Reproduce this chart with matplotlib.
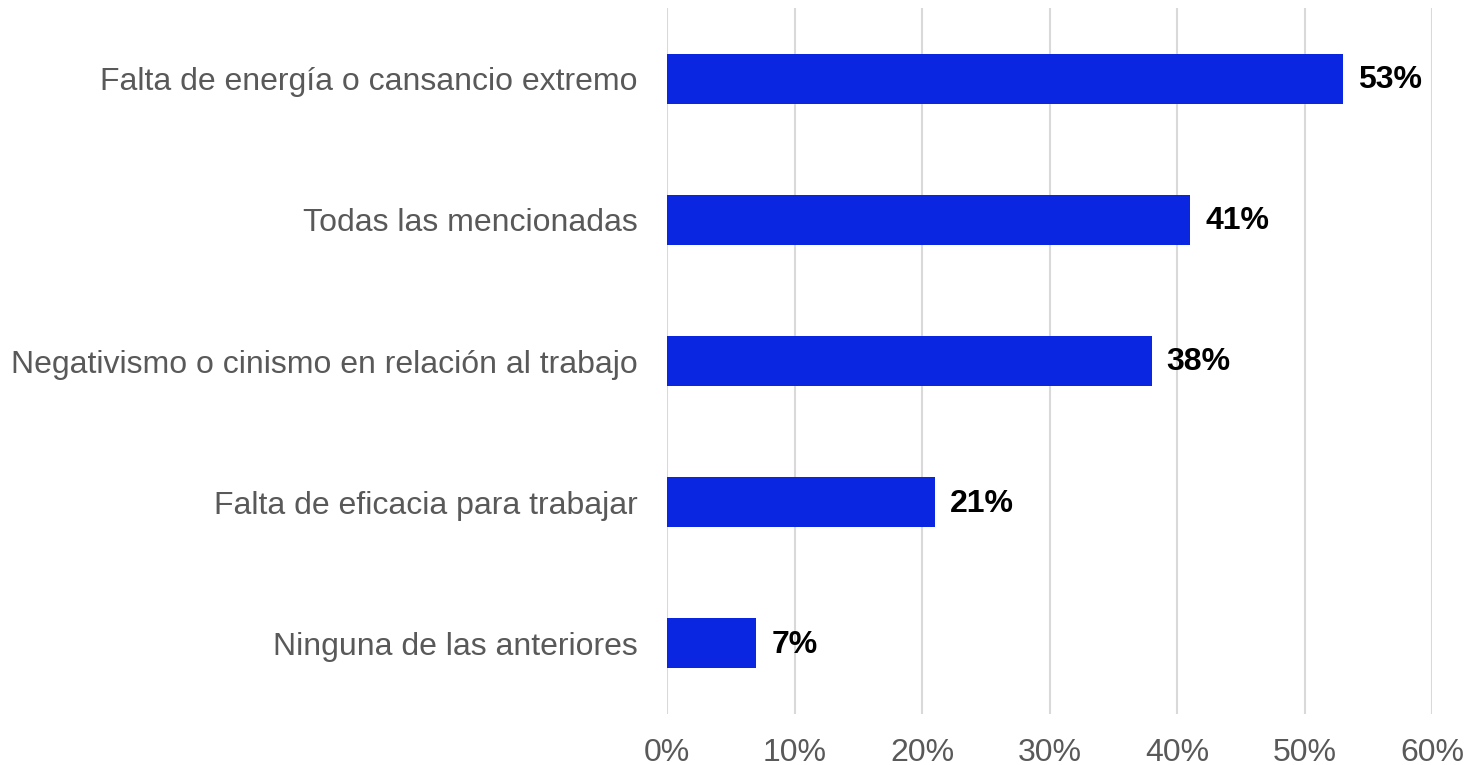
import matplotlib
matplotlib.use("Agg")
import matplotlib.pyplot as plt
from matplotlib.ticker import FuncFormatter

categories = ["Falta de energía o cansancio extremo", "Todas las mencionadas",
              "Negativismo o cinismo en relación al trabajo",
              "Falta de eficacia para trabajar", "Ninguna de las anteriores"]
values = [53, 41, 38, 21, 7]
xticks = [0, 10, 20, 30, 40, 50, 60]

plt.rcParams['font.family'] = ['Liberation Sans', 'DejaVu Sans']

fig = plt.figure(figsize=(14.71, 7.65), dpi=100)
ax = fig.add_axes([667/1471, 1-714/765, (1432-667)/1471, (714-8)/765])

y = list(range(len(categories)))
ax.barh(y, values, height=0.355, color="#0A26E0", zorder=3)
for yi, v in zip(y, values):
    ax.annotate(f"{v}%", (v, yi), xytext=(11, -1), textcoords="offset points",
                va="center", ha="left", fontsize=23, fontweight="bold", color="black")

ax.set_xlim(0, 60)
ax.set_ylim(len(categories)-0.5, -0.5)
ax.set_xticks(xticks)
ax.xaxis.set_major_formatter(FuncFormatter(lambda v, p: f"{int(v)}%"))
ax.set_yticks(y)
ax.set_yticklabels(categories)
ax.tick_params(axis="both", length=0, labelsize=23, labelcolor="#595959")
ax.tick_params(axis="x", pad=17)
ax.tick_params(axis="y", pad=21)
ax.grid(axis="x", color="#D9D9D9", linewidth=1.5, zorder=0)
for s in ax.spines.values():
    s.set_visible(False)

fig.savefig("out.png", dpi=100)
